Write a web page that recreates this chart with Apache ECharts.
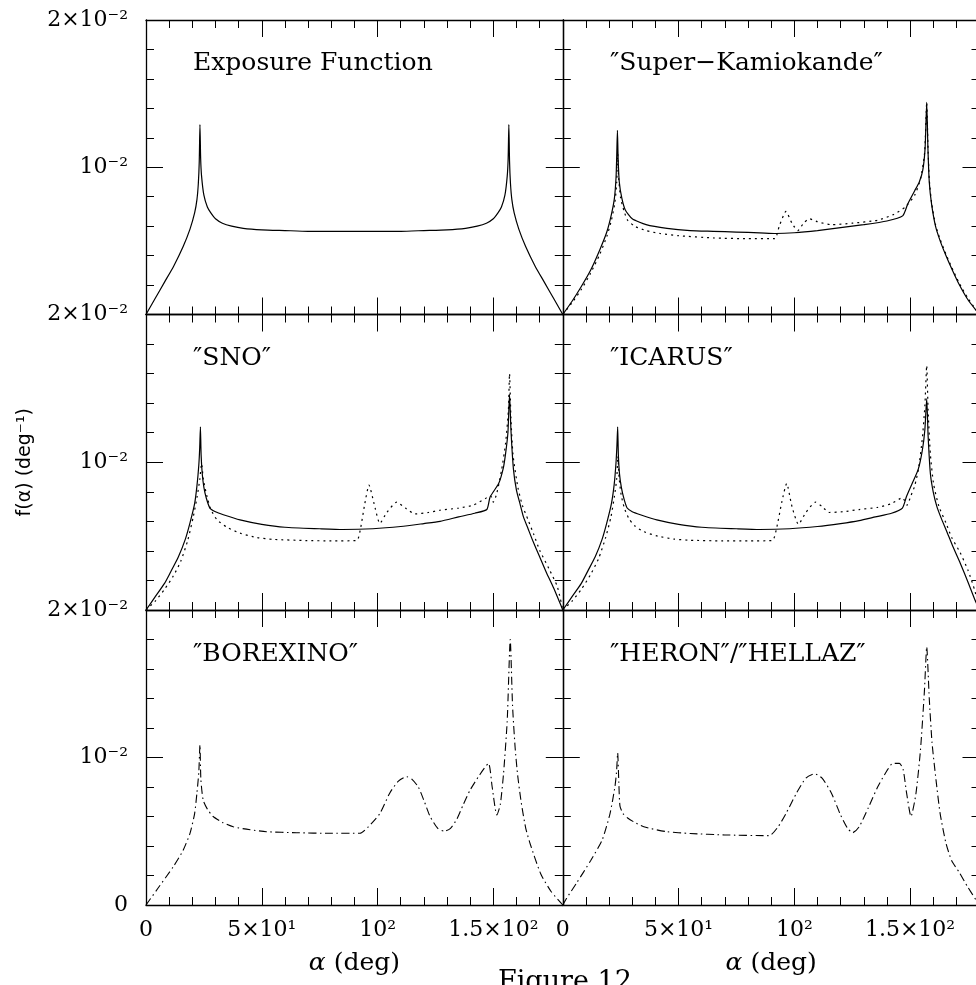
<!DOCTYPE html>
<html>
<head>
<meta charset="utf-8">
<title>Figure 12</title>
<script src="https://cdn.jsdelivr.net/npm/echarts@6.0.0/dist/echarts.min.js"></script>
<style>
  html, body { margin: 0; padding: 0; background: #fff; }
  #main { width: 976px; height: 985px; }
</style>
</head>
<body>
<div id="main"></div>
<script type="text/javascript">

    // tick labels
    var xTickValues = [0, 50, 100, 150];
    var xTickLabels = ['0', '5×10¹', '10²', '1.5×10²'];
    var yTickValues = [0, 10, 20];             // f in units of 10^-3 deg^-1
    var yTickLabels = ['0', '10⁻²', '2×10⁻²'];

    var panelTitles = ['Exposure Function', '″Super−Kamiokande″', '″SNO″', '″ICARUS″', '″BOREXINO″', '″HERON″/″HELLAZ″'];

    // exposure function (solid)
    var expoAlpha = [0, 4, 8, 12, 16, 19, 21, 22, 22.6, 23.0, 23.3, 23.6, 24.0, 25.0, 26.5, 28, 30, 33, 37, 42, 50, 60, 70, 80, 90, 100, 110, 120, 130, 138, 143, 147, 150, 152, 153.5, 155, 156, 156.4, 156.7, 157.0, 157.4, 158, 159, 161, 164, 168, 172, 176, 180];
    var expoF = [0, 1.1, 2.2, 3.3, 4.6, 5.8, 6.9, 7.8, 8.9, 10.4, 12.9, 10.6, 9.4, 8.1, 7.3, 6.9, 6.5, 6.2, 6.0, 5.85, 5.75, 5.7, 5.65, 5.65, 5.65, 5.65, 5.65, 5.7, 5.75, 5.85, 6.0, 6.2, 6.5, 6.9, 7.3, 8.1, 9.4, 10.6, 12.9, 10.4, 8.9, 7.8, 6.9, 5.8, 4.6, 3.3, 2.2, 1.1, 0];

    // Super-Kamiokande
    var skSolidAlpha = [0, 4, 8, 12, 16, 19, 21, 22.3, 23.0, 23.3, 23.6, 23.9, 24.4, 25.5, 27, 30, 36, 45, 55, 65, 75, 85, 92, 100, 110, 120, 130, 140, 146.8, 149, 152, 154, 155.5, 156.5, 157.2, 157.7, 158.3, 159.3, 161, 163, 165.5, 168, 171, 175, 180];
    var skSolidF = [0, 0.9, 1.9, 3.0, 4.4, 5.6, 6.8, 7.9, 9.3, 10.8, 12.5, 10.6, 9.0, 7.9, 7.1, 6.5, 6.1, 5.85, 5.7, 5.65, 5.6, 5.55, 5.5, 5.55, 5.7, 5.9, 6.1, 6.35, 6.7, 7.5, 8.4, 9.0, 9.8, 11.3, 14.4, 11.4, 9.0, 7.5, 6.0, 5.0, 4.0, 3.1, 2.1, 1.0, 0];
    var skDotAlpha = [0, 4, 8, 12, 16, 19, 21, 22.5, 23.3, 23.7, 24.1, 25, 26.5, 28, 31, 36, 42, 50, 65, 80, 91.5, 93.5, 96.4, 99, 101.5, 104, 106.5, 110, 116, 125, 136, 143, 148, 152, 154.5, 156.3, 157.2, 157.7, 158.3, 159.3, 161, 163, 165.5, 168, 171, 175, 180];
    var skDotF = [0, 0.8, 1.7, 2.8, 4.1, 5.3, 6.4, 7.6, 9.0, 10.9, 9.3, 7.9, 7.0, 6.4, 6.0, 5.7, 5.5, 5.35, 5.2, 5.15, 5.15, 6.0, 7.0, 6.2, 5.7, 6.2, 6.5, 6.3, 6.1, 6.2, 6.4, 6.8, 7.3, 8.1, 9.2, 11.0, 14.4, 11.6, 9.2, 7.6, 6.1, 5.1, 4.1, 3.2, 2.2, 1.1, 0];

    // SNO
    var snoSolidAlpha = [0, 4, 8, 10.4, 14, 17, 19, 21, 22, 22.8, 23.2, 23.5, 23.8, 24.3, 25, 26, 27.6, 30, 33.4, 40.6, 50, 60, 75, 85, 98, 110, 120, 127, 135, 142, 147.2, 148.6, 152.3, 154.3, 155.3, 156.3, 157, 157.6, 158.7, 160, 161.5, 163, 165, 167, 170, 173, 176, 180];
    var snoSolidF = [0, 0.9, 1.8, 2.5, 3.6, 4.8, 5.9, 7.2, 8.4, 9.8, 11.0, 12.4, 10.5, 9.2, 8.3, 7.6, 6.9, 6.65, 6.45, 6.1, 5.8, 5.6, 5.5, 5.45, 5.5, 5.65, 5.85, 6.0, 6.3, 6.55, 6.8, 7.65, 8.56, 9.6, 10.6, 12.0, 14.6, 12.2, 9.5, 8.1, 7.2, 6.3, 5.5, 4.7, 3.6, 2.5, 1.5, 0];
    var snoDotAlpha = [0, 4, 8, 11.8, 15, 18, 20.4, 22, 23.2, 24, 24.8, 26.4, 28, 30.7, 35, 40.6, 48, 55, 69, 80, 91, 92.5, 94.5, 96.3, 98.5, 101, 104, 108.3, 112, 116.2, 122, 127, 135, 141.4, 147.2, 149, 150, 151.5, 153.6, 155.3, 156.5, 157, 157.6, 158.5, 160.6, 162.5, 165, 167.5, 170, 174, 177.6, 180];
    var snoDotF = [0, 0.6, 1.4, 2.3, 3.3, 4.7, 6.3, 7.6, 8.8, 9.9, 8.8, 7.65, 6.8, 6.1, 5.6, 5.2, 4.9, 4.78, 4.7, 4.68, 4.7, 5.4, 7.2, 8.45, 7.2, 5.86, 6.6, 7.3, 6.9, 6.5, 6.6, 6.75, 6.9, 7.1, 7.6, 7.7, 7.3, 7.9, 9.5, 11.3, 13.5, 16.0, 13.0, 10.5, 8.3, 7.1, 6.1, 5.1, 4.05, 2.8, 1.6, 0];

    // ICARUS
    var icSolidAlpha = [0, 4, 8, 11, 14, 17, 19, 21, 22.2, 23.0, 23.4, 23.7, 24.0, 24.5, 25.3, 26.3, 27.8, 30, 33.5, 40.6, 50, 60, 75, 85, 98, 110, 120, 128, 135, 142, 146.7, 148.5, 151, 153.5, 155.3, 156.4, 157.2, 157.8, 158.8, 160, 161.6, 163.5, 165.9, 168.5, 171.6, 175, 178, 180];
    var icSolidF = [0, 0.9, 1.8, 2.7, 3.6, 4.8, 5.9, 7.2, 8.5, 10.0, 11.2, 12.4, 10.5, 9.2, 8.3, 7.6, 6.9, 6.65, 6.45, 6.1, 5.8, 5.6, 5.5, 5.45, 5.5, 5.65, 5.85, 6.05, 6.3, 6.55, 6.9, 7.7, 8.6, 9.5, 10.8, 12.2, 14.3, 11.8, 9.2, 8.0, 7.0, 6.2, 5.3, 4.3, 3.2, 1.9, 0.7, 0];
    var icDotAlpha = [0, 4, 8, 12, 15.5, 18.5, 20.8, 22.3, 23.3, 23.8, 24.3, 25.2, 26.6, 28.5, 31, 35, 41, 48, 55, 69, 80, 90.5, 92.3, 94.6, 96.7, 99, 101.8, 105, 109.2, 112, 115, 121, 128, 136, 142, 146.7, 148.7, 150.3, 152, 153.7, 155.3, 156.4, 157.2, 157.8, 158.8, 160.2, 162.5, 165.5, 168, 171.6, 175, 178, 180];
    var icDotF = [0, 0.6, 1.4, 2.4, 3.5, 4.9, 6.3, 7.7, 8.9, 10.4, 9.0, 7.8, 6.9, 6.2, 5.7, 5.3, 5.0, 4.8, 4.72, 4.68, 4.68, 4.7, 5.5, 7.3, 8.56, 7.0, 5.8, 6.6, 7.3, 7.0, 6.6, 6.65, 6.8, 6.95, 7.2, 7.6, 7.1, 7.7, 8.4, 9.6, 11.6, 13.8, 16.55, 13.5, 10.5, 8.5, 7.0, 5.9, 4.9, 3.9, 2.7, 1.3, 0];

    // BOREXINO (dash-dot)
    var borAlpha = [0, 5, 11.8, 16, 19, 21, 22, 22.8, 23.3, 23.7, 24.7, 26.5, 29, 33, 37.7, 45, 52, 65, 79.5, 92.4, 96, 101, 105.3, 109, 112.6, 115, 117.6, 120, 122.7, 126, 128.9, 131.5, 134.2, 137, 140, 144, 147.9, 149.5, 151.5, 153, 154.4, 156, 157.3, 158.3, 159.4, 160.5, 162, 164, 166, 170.5, 175, 180];
    var borF = [0, 1.1, 2.6, 3.7, 4.86, 6.2, 7.6, 9.0, 10.85, 8.5, 7.1, 6.5, 6.0, 5.6, 5.3, 5.1, 4.97, 4.9, 4.86, 4.86, 5.3, 6.2, 7.6, 8.4, 8.7, 8.5, 8.0, 7.1, 6.0, 5.2, 5.0, 5.2, 5.8, 6.8, 7.8, 8.8, 9.6, 8.0, 6.1, 6.8, 8.9, 12.5, 18.0, 13.5, 10.7, 8.8, 7.0, 5.2, 4.1, 2.1, 0.9, 0];

    // HERON / HELLAZ (dash-dot)
    var herAlpha = [0, 1.7, 6, 12, 17, 20.4, 22.5, 23.2, 23.7, 24.2, 24.7, 26, 28, 30.5, 35, 44.9, 55, 70, 89.2, 93, 96.4, 101, 105, 108.7, 112, 116, 120, 123, 125.2, 128, 132, 136, 140, 142.5, 145.4, 147, 148.5, 150.4, 152.5, 154.5, 156.2, 157.2, 158.3, 159.5, 161.2, 163, 165.5, 168, 171.3, 175, 178.5, 180];
    var herF = [0, 0.47, 1.5, 3.0, 4.4, 6.2, 8.0, 9.0, 10.3, 8.3, 6.7, 6.2, 5.9, 5.65, 5.3, 4.97, 4.85, 4.75, 4.7, 5.3, 6.2, 7.6, 8.6, 8.9, 8.6, 7.6, 6.1, 5.2, 4.9, 5.3, 6.6, 8.0, 9.1, 9.6, 9.6, 9.2, 7.6, 6.0, 7.5, 10.5, 14.5, 17.5, 14.0, 11.0, 8.5, 6.2, 4.2, 3.0, 2.2, 1.2, 0.34, 0];

    var SERIF = 'DejaVu Serif';
    var SOLID = {color: '#000', width: 1.2, type: 'solid'};
    var DOTTED = {color: '#000', width: 1.2, type: [2, 4]};
    var DASHDOT = {color: '#000', width: 1.1, type: [8, 3.5, 1.5, 3.5]};

    var panels = [
        {curves: [[expoAlpha, expoF, SOLID]]},
        {curves: [[skSolidAlpha, skSolidF, SOLID], [skDotAlpha, skDotF, DOTTED]]},
        {curves: [[snoSolidAlpha, snoSolidF, SOLID], [snoDotAlpha, snoDotF, DOTTED]]},
        {curves: [[icSolidAlpha, icSolidF, SOLID], [icDotAlpha, icDotF, DOTTED]]},
        {curves: [[borAlpha, borF, DASHDOT]]},
        {curves: [[herAlpha, herF, DASHDOT]]}
    ];

    // panel layout (px)
    var rows = [{top: 20, height: 294.5}, {top: 314.5, height: 295.5}, {top: 610, height: 295}];
    var cols = [{left: 146, width: 416.8}, {left: 562.8, width: 416.7}];
    var titleTops = [50.5, 345.5, 641.5];
    var titleLefts = [193, 610];

    function pairs(xs, ys) {
        return xs.map(function (x, i) { return [x, ys[i]]; });
    }

    function xLabel(v) {
        var k = xTickValues.indexOf(v);
        return k < 0 ? '' : xTickLabels[k];
    }

    var grid = [], xAxis = [], yAxis = [], series = [], title = [];

    panels.forEach(function (p, i) {
        var r = Math.floor(i / 2), c = i % 2;
        grid.push({
            left: cols[c].left, top: rows[r].top,
            width: cols[c].width, height: rows[r].height,
            containLabel: false, outerBoundsMode: 'none'
        });
        var xBase = xAxis.length, yBase = yAxis.length;
        var bottomRow = (r === 2);

        ['bottom', 'top'].forEach(function (pos) {
            [false, true].forEach(function (major) {
                var labelled = bottomRow && pos === 'bottom' && !major;
                xAxis.push({
                    gridIndex: i, type: 'value', position: pos,
                    min: 0, max: 180, interval: major ? 50 : 10,
                    axisLine: {show: !major, onZero: false, lineStyle: {color: '#000', width: 1.3}},
                    axisTick: {show: true, inside: true, length: major ? 17 : 8, lineStyle: {color: '#000', width: 1}},
                    axisLabel: {
                        show: labelled, margin: 14, color: '#000',
                        fontFamily: SERIF, fontSize: 22, hideOverlap: false,
                        formatter: xLabel
                    },
                    splitLine: {show: false},
                    name: labelled ? '{it|α} (deg)' : '',
                    nameLocation: 'middle', nameGap: 46, nameMoveOverlap: false,
                    nameTextStyle: {
                        color: '#000', fontFamily: SERIF, fontSize: 25,
                        rich: {it: {fontStyle: 'italic', fontFamily: SERIF, fontSize: 25, color: '#000'}}
                    }
                });
            });
        });

        ['left', 'right'].forEach(function (pos) {
            var labelled = (c === 0 && pos === 'left');
            var ax = {
                gridIndex: i, type: 'value', position: pos,
                min: 0, max: 20, interval: 10,
                axisLine: {show: true, onZero: false, lineStyle: {color: '#000', width: 1.3}},
                axisTick: {show: true, inside: true, length: 17, lineStyle: {color: '#000', width: 1}},
                minorTick: {show: true, splitNumber: 5, length: 8, lineStyle: {color: '#000', width: 1}},
                axisLabel: {
                    show: labelled, margin: 18, color: '#000',
                    fontFamily: SERIF, fontSize: 22, hideOverlap: false,
                    formatter: function (v) {
                        if (v === 0 && r < 2) return '';
                        var k = yTickValues.indexOf(v);
                        return k < 0 ? '' : yTickLabels[k];
                    }
                },
                splitLine: {show: false}
            };
            if (labelled && r === 1) {
                ax.name = 'f(α) (deg⁻¹)';
                ax.nameLocation = 'middle';
                ax.nameRotate = 90;
                ax.nameGap = 111;
                ax.nameMoveOverlap = false;
                ax.nameTextStyle = {color: '#000', fontFamily: 'DejaVu Sans', fontSize: 19};
            }
            yAxis.push(ax);
        });

        p.curves.forEach(function (cv) {
            series.push({
                type: 'line', xAxisIndex: xBase, yAxisIndex: yBase,
                data: pairs(cv[0], cv[1]),
                symbol: 'none', smooth: 0.2, silent: true,
                lineStyle: cv[2]
            });
        });

        title.push({
            text: panelTitles[i], left: titleLefts[c], top: titleTops[r], padding: 0,
            textStyle: {color: '#000', fontFamily: SERIF, fontSize: 25, fontWeight: 'normal'}
        });
    });

    title.push({
        text: 'Figure 12', left: 498, top: 969, padding: 0,
        textStyle: {color: '#000', fontFamily: SERIF, fontSize: 27, fontWeight: 'normal'}
    });

    var chart = echarts.init(document.getElementById('main'), null, {renderer: 'canvas'});
    chart.setOption({
        animation: false,
        backgroundColor: '#fff',
        title: title,
        grid: grid,
        xAxis: xAxis,
        yAxis: yAxis,
        series: series
    });

</script>
</body>
</html>
